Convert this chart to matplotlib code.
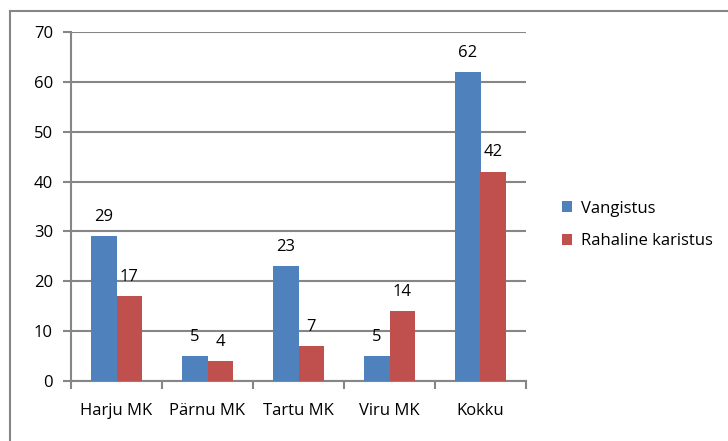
import matplotlib.pyplot as plt
import numpy as np
from matplotlib.lines import Line2D

# data
categories = ["Harju MK", "Pärnu MK", "Tartu MK", "Viru MK", "Kokku"]
vangistus = [29, 5, 23, 5, 62]
rahaline = [17, 4, 7, 14, 42]
series_names = ["Vangistus", "Rahaline karistus"]

blue = "#4F81BD"
red = "#C0504D"
gray = "#868686"
fs = 12

plt.rcParams['font.family'] = ['Open Sans', 'DejaVu Sans']

fig = plt.figure(figsize=(7.28, 4.41), dpi=100)
ax = fig.add_axes([71 / 728, 1 - 381 / 441, 455 / 728, 349 / 441])

x = np.arange(len(categories))
w = 0.28
b1 = ax.bar(x - w / 2, vangistus, w, color=blue, label=series_names[0], zorder=3)
b2 = ax.bar(x + w / 2, rahaline, w, color=red, label=series_names[1], zorder=3)

for bars, vals in ((b1, vangistus), (b2, rahaline)):
    for b, v in zip(bars, vals):
        ax.annotate(str(v), (b.get_x() + b.get_width() / 2, v),
                    xytext=(0, 8), textcoords="offset points",
                    ha="center", va="bottom", fontsize=fs, color="black")

ax.set_xlim(-0.5, len(categories) - 0.5)
ax.set_ylim(0, 70)
ax.set_yticks(range(0, 71, 10))
ax.yaxis.grid(True, color=gray, linewidth=1.5, zorder=0)
ax.set_axisbelow(True)

# ticks between categories
ax.set_xticks(np.arange(-0.5, len(categories), 1.0))
ax.set_xticklabels([])
ax.set_xticks(x, minor=True)
ax.set_xticklabels(categories, minor=True, fontsize=fs)
ax.tick_params(axis="x", which="major", length=6, width=1.5, color=gray)
ax.tick_params(axis="x", which="minor", length=0, pad=16)
ax.tick_params(axis="y", length=6, width=1.5, color=gray, labelsize=fs, pad=7)

for s in ("top", "right"):
    ax.spines[s].set_visible(False)
for s in ("left", "bottom"):
    ax.spines[s].set_color(gray)
    ax.spines[s].set_linewidth(1.5)

leg = fig.legend(handles=[b1, b2], loc="center left",
                 bbox_to_anchor=(0.752, 0.49), frameon=False,
                 fontsize=fs, handlelength=0.6, handleheight=0.6,
                 handletextpad=0.5, labelspacing=1.0)

# chart border (top and left visible)
fig.add_artist(Line2D([10 / 728, 10 / 728], [0, 1 - 11 / 441],
                      color=gray, linewidth=1.5, transform=fig.transFigure))
fig.add_artist(Line2D([10 / 728, 1], [1 - 11 / 441, 1 - 11 / 441],
                      color=gray, linewidth=1.5, transform=fig.transFigure))

fig.savefig("out.png", dpi=100)
